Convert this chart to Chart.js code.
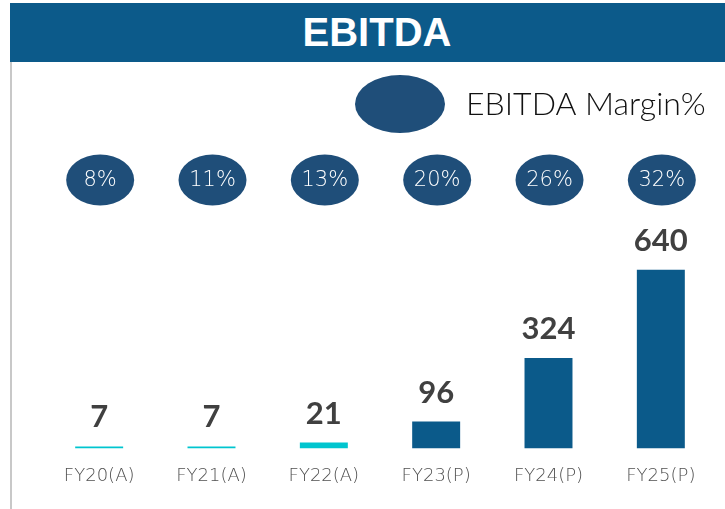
<!DOCTYPE html>
<html>
<head>
<meta charset="utf-8">
<script src="https://cdn.jsdelivr.net/npm/chart.js@4"></script>
<style>
  body { margin: 0; background: #fff; }
  #wrap { position: relative; width: 725px; height: 509px; overflow: hidden; }
  #title {
    position: absolute; left: 10px; top: 3px; width: 715px; height: 59px;
    background: #0C5A8A; color: #fff;
    font: bold 40px "Liberation Sans", Arial, sans-serif;
    line-height: 59px; text-align: center; box-sizing: border-box; padding-left: 19px;
  }
  #edge { position: absolute; left: 10px; top: 62px; width: 2px; height: 447px; background: #c8c8c8; }
  canvas { position: absolute; left: 0; top: 0; }
</style>
</head>
<body>
<div id="wrap">
  <div id="title">EBITDA</div>
  <div id="edge"></div>
  <canvas id="barChart" width="725" height="509"></canvas>
</div>
<script>
// Chart data
const years = ["FY20(A)", "FY21(A)", "FY22(A)", "FY23(P)", "FY24(P)", "FY25(P)"];
const ebitda = [7, 7, 21, 96, 324, 640];
const margins = ["8%", "11%", "13%", "20%", "26%", "32%"];
const legendLabel = "EBITDA Margin%";

const actualColor = "#00C5CF";
const projColor = "#0B5A8A";
const ovalColor = "#1F4E79";

// Draws value labels, margin ovals and the legend
const extras = {
    id: "extras",
    afterDatasetsDraw(chart) {
        const ctx = chart.ctx;
        const meta = chart.getDatasetMeta(0);
        const x = chart.scales.x;
        ctx.save();

        // value labels above bars
        ctx.fillStyle = "#404040";
        ctx.font = "bold 31px Lato, sans-serif";
        ctx.textAlign = "center";
        ctx.textBaseline = "middle";
        meta.data.forEach((bar, i) => {
            ctx.fillText(ebitda[i], bar.x, bar.y - 29);
        });

        // margin ovals
        margins.forEach((m, i) => {
            const cx = x.getPixelForValue(i);
            ctx.fillStyle = ovalColor;
            ctx.beginPath();
            ctx.ellipse(cx + 1, 180, 34, 25.5, 0, 0, Math.PI * 2);
            ctx.fill();
            ctx.fillStyle = "#ffffff";
            ctx.font = "300 21px 'DejaVu Sans', sans-serif";
            ctx.fillText(m, cx + 1, 181);
        });

        // legend
        ctx.fillStyle = ovalColor;
        ctx.beginPath();
        ctx.ellipse(400, 104, 45, 29, 0, 0, Math.PI * 2);
        ctx.fill();
        ctx.fillStyle = "#111111";
        ctx.font = "300 32px Lato, sans-serif";
        ctx.textAlign = "left";
        ctx.fillText(legendLabel, 466, 105);

        ctx.restore();
    }
};

const config = {
    type: "bar",
    data: {
        labels: years,
        datasets: [
            {
                label: "EBITDA",
                data: ebitda,
                backgroundColor: (c) => years[c.dataIndex].includes("(A)") ? actualColor : projColor,
                barPercentage: 0.427,
                categoryPercentage: 1,
            },
        ],
    },
    options: {
        responsive: false,
        animation: false,
        devicePixelRatio: 1,
        layout: {
            padding: { left: 43, right: 8, top: 225, bottom: 5 },
        },
        scales: {
            x: {
                grid: { display: false, drawTicks: false },
                border: { display: false },
                ticks: {
                    color: "#505050",
                    font: { family: "'DejaVu Sans', sans-serif", size: 18, weight: "300" },
                    padding: 17,
                },
            },
            y: {
                display: false,
                min: 0,
                max: 800,
            },
        },
        plugins: {
            legend: { display: false },
            tooltip: { enabled: false },
        },
    },
    plugins: [extras],
};

const ctx = document.getElementById("barChart").getContext("2d");
new Chart(ctx, config);
</script>
</body>
</html>
